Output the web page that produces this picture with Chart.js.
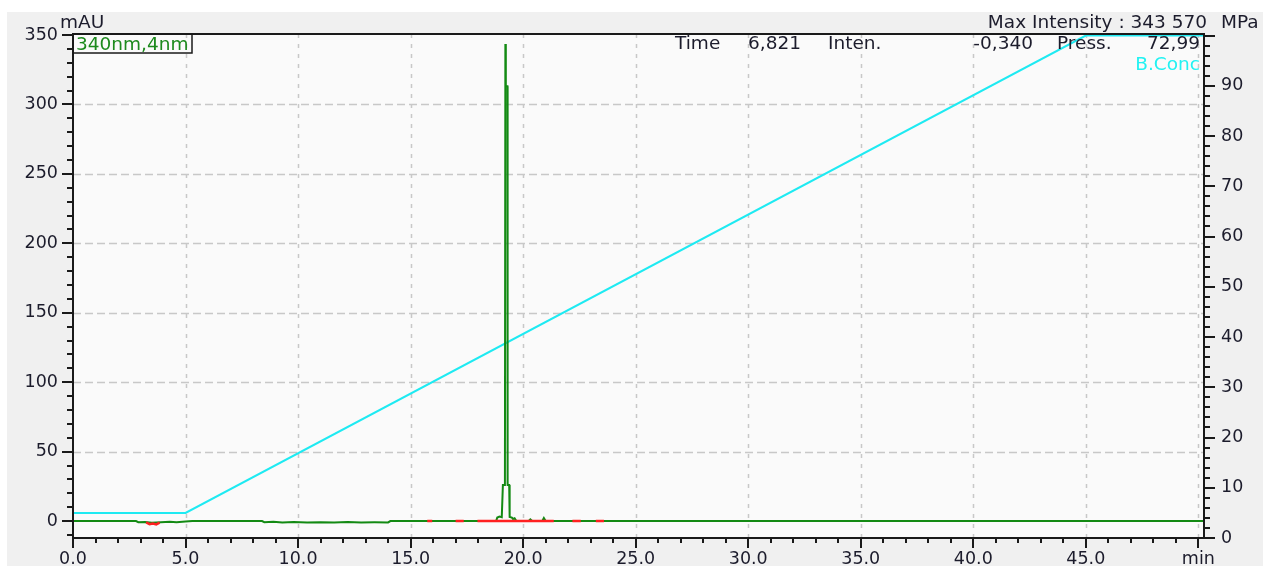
<!DOCTYPE html>
<html>
<head>
<meta charset="utf-8">
<title>340nm,4nm</title>
<script src="https://cdn.jsdelivr.net/npm/chart.js@4.4.1/dist/chart.umd.min.js"></script>
<style>
html, body { margin: 0; padding: 0; background: #fff; }
canvas { display: block; }
</style>
</head>
<body>
<canvas id="chromatogram" width="1263" height="566"></canvas>
<script>
// PDA trace, 340 nm (bw 4 nm): retention time (min) / absorbance (mAU)
var traceTime = [0, 2.8, 2.9, 3.2, 3.5, 3.9, 4.3, 4.6, 5.0, 5.3,
	8.4, 8.5, 8.9, 9.3, 9.8, 10.4, 11.0, 11.6, 12.2, 12.8, 13.4, 14.0, 14.1,
	18.8, 18.85, 18.95, 19.05, 19.10, 19.19, 19.21, 19.23, 19.24, 19.30, 19.31, 19.38, 19.40,
	19.50, 19.55, 19.62, 19.70, 20.25, 20.32, 20.40, 20.85, 20.92, 21.0, 50.25];
var traceMAU = [0, 0, -0.8, -0.6, -1.2, -0.8, -0.5, -0.9, -0.4, 0,
	0, -0.8, -0.5, -1.0, -0.6, -1.0, -0.8, -1.1, -0.7, -1.0, -0.9, -1.0, 0,
	0, 2.5, 3.2, 2.8, 26, 26, 343.57, 313, 313, 313, 26, 26, 3,
	2.5, 1.5, 2.0, 0, 0, 1.2, 0, 0, 2.2, 0, 0];

// baseline channel (red), broken where it is hidden under the trace
var baseTime = [3.25, 3.4, 3.55, 3.7, 3.85, 3.9,
	15.74, 15.96, 15.97, 17.0, 17.36, 17.37, 17.97, 21.36, 21.37,
	22.19, 22.56, 22.57, 23.23, 23.59];
var baseMAU = [-1.0, -2.2, -1.8, -2.4, -1.2, null,
	0, 0, null, 0, 0, null, 0, 0, null,
	0, 0, null, 0, 0];

// pump B concentration (%)
var gradTime = [0, 5, 45, 50.25];
var gradConc = [5, 5, 100, 100];

// axis ticks
var xTicks = [0, 5, 10, 15, 20, 25, 30, 35, 40, 45, 50];
var yTicks = [0, 50, 100, 150, 200, 250, 300, 350];
var y1Ticks = [0, 10, 20, 30, 40, 50, 60, 70, 80, 90];

var readout = ['Time', '6,821', 'Inten.', '-0,340', 'Press.', '72,99'];

var FONT = '"DejaVu Sans", Verdana, sans-serif';
var TEXT = '#1c1c2c';

function pairs(xs, ys) {
	return xs.map(function(x, i) { return { x: x, y: ys[i] }; });
}

function fixTicks(list) {
	return function(scale) {
		scale.ticks = list.map(function(v) { return { value: v }; });
	};
}

// thousands grouped with a space, e.g. 343 570
function groupDigits(n) {
	return String(Math.round(n)).replace(/\B(?=(\d{3})+(?!\d))/g, ' ');
}

var axisMarks = {
	id: 'axisMarks',
	beforeDraw: function(chart) {
		var c = chart.ctx, a = chart.chartArea;
		var sx = chart.scales.x, sy = chart.scales.y;
		c.save();
		c.fillStyle = '#ffffff';
		c.fillRect(0, 0, chart.width, chart.height);
		c.fillStyle = '#f0f0f0';
		c.fillRect(7, 12, chart.width - 7, chart.height - 12);
		c.fillStyle = '#fafafa';
		c.fillRect(a.left, a.top, a.right - a.left, a.bottom - a.top);

		c.strokeStyle = '#c8c8c8';
		c.lineWidth = 1.5;
		// horizontal dashed grid
		c.setLineDash([8, 4]);
		yTicks.forEach(function(v) {
			if (v <= 0 || v >= 350) return;
			var py = Math.round(sy.getPixelForValue(v)) + 0.5;
			c.beginPath(); c.moveTo(a.left, py); c.lineTo(a.right, py); c.stroke();
		});
		// vertical dotted grid
		c.setLineDash([4, 6]);
		xTicks.forEach(function(v) {
			if (v <= 0) return;
			var px = Math.round(sx.getPixelForValue(v)) + 0.5;
			c.beginPath(); c.moveTo(px, a.top); c.lineTo(px, a.bottom); c.stroke();
		});
		c.restore();
	},
	afterDatasetsDraw: function(chart) {
		var c = chart.ctx, a = chart.chartArea;
		var sx = chart.scales.x, sy = chart.scales.y, sy1 = chart.scales.y1;
		var v, p;
		c.save();
		c.strokeStyle = '#1a1a1a';
		c.lineWidth = 2;
		c.strokeRect(a.left, a.top, a.right - a.left, a.bottom - a.top);

		c.beginPath();
		for (v = 0; v <= 50; v += 1) {
			p = Math.round(sx.getPixelForValue(v));
			c.moveTo(p, a.bottom);
			c.lineTo(p, a.bottom + (v % 5 === 0 ? 10 : 5));
		}
		for (v = -10; v <= 350; v += 10) {
			p = Math.round(sy.getPixelForValue(v));
			c.moveTo(a.left, p);
			c.lineTo(a.left - (v % 50 === 0 ? 11 : 6), p);
		}
		for (v = 0; v <= 100; v += 2) {
			p = Math.round(sy1.getPixelForValue(v));
			c.moveTo(a.right, p);
			c.lineTo(a.right + (v % 10 === 0 ? 11 : 6), p);
		}
		c.stroke();
		c.restore();
	},
	afterDraw: function(chart) {
		var c = chart.ctx, a = chart.chartArea;
		var peak = Math.max.apply(null, traceMAU);
		c.save();
		c.font = '18.5px ' + FONT;
		c.fillStyle = TEXT;
		c.textBaseline = 'alphabetic';

		c.textAlign = 'left';
		c.fillText('mAU', 60, 28);
		c.fillText('MPa', 1221, 28);
		c.textAlign = 'right';
		c.fillText('Max Intensity : ' + groupDigits(peak * 1000), 1207, 28);

		// cursor readout
		c.textAlign = 'left';
		c.fillText(readout[0], 675, 49);
		c.fillText(readout[1], 748, 49);
		c.fillText(readout[2], 828, 49);
		c.fillText(readout[4], 1057, 49);
		c.textAlign = 'right';
		c.fillText(readout[3], 1033, 49);
		c.fillText(readout[5], 1200, 49);

		c.fillStyle = '#22f2f2';
		c.fillText('B.Conc', 1200, 70);

		// channel box
		c.strokeStyle = '#1a1a1a';
		c.lineWidth = 1.5;
		c.strokeRect(a.left, a.top, 119, 19);
		c.fillStyle = '#1d8a1d';
		c.textAlign = 'left';
		c.fillText('340nm,4nm', a.left + 3, a.top + 16);
		c.restore();
	}
};

Chart.defaults.font.family = FONT;
Chart.defaults.font.size = 17.5;
Chart.defaults.color = TEXT;

// lowest order is painted last, so the red baseline sits on top
new Chart(document.getElementById('chromatogram'), {
	type: 'line',
	data: {
		datasets: [
			{
				label: 'Baseline',
				data: pairs(baseTime, baseMAU),
				borderColor: '#ff2020',
				borderWidth: 2.5,
				pointRadius: 0,
				spanGaps: false,
				yAxisID: 'y',
				order: 0
			},
			{
				label: '340nm,4nm',
				data: pairs(traceTime, traceMAU),
				borderColor: '#138a13',
				borderWidth: 2,
				pointRadius: 0,
				tension: 0,
				yAxisID: 'y',
				order: 1
			},
			{
				label: 'B.Conc',
				data: pairs(gradTime, gradConc),
				borderColor: '#1eeaf2',
				borderWidth: 2,
				pointRadius: 0,
				tension: 0,
				yAxisID: 'y1',
				order: 2
			}
		]
	},
	options: {
		responsive: false,
		animation: false,
		devicePixelRatio: 1,
		layout: { padding: { top: 34, left: 0, right: 0, bottom: 0 } },
		plugins: {
			legend: { display: false },
			tooltip: { enabled: false }
		},
		scales: {
			x: {
				type: 'linear',
				min: 0,
				max: 50.25,
				grid: { display: false, drawTicks: false },
				border: { display: false },
				afterBuildTicks: fixTicks(xTicks),
				afterFit: function(s) { s.height = 28; },
				ticks: {
					padding: 11,
					autoSkip: false,
					maxRotation: 0,
					callback: function(v) { return v === 50 ? 'min' : v.toFixed(1); }
				}
			},
			y: {
				type: 'linear',
				position: 'left',
				min: -12.2,
				max: 350.7,
				grid: { display: false, drawTicks: false },
				border: { display: false },
				afterBuildTicks: fixTicks(yTicks),
				afterFit: function(s) { s.width = 73; },
				ticks: {
					padding: 15,
					callback: function(v) { return String(v); }
				}
			},
			y1: {
				type: 'linear',
				position: 'right',
				min: 0,
				max: 100.3,
				grid: { display: false, drawTicks: false },
				border: { display: false },
				afterBuildTicks: fixTicks(y1Ticks),
				afterFit: function(s) { s.width = 59; },
				ticks: {
					padding: 17,
					callback: function(v) { return String(v); }
				}
			}
		}
	},
	plugins: [axisMarks]
});
</script>
</body>
</html>
